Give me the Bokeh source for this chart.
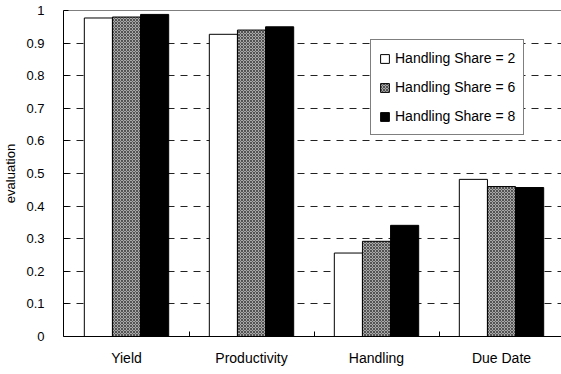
from bokeh.plotting import figure
from bokeh.models import (Range1d, FixedTicker, NumeralTickFormatter, CustomJSTickFormatter,
                          ColumnDataSource, Span, Legend, LegendItem)
from bokeh.transform import dodge
from bokeh.embed import file_html
from bokeh.resources import INLINE

categories = ["Yield", "Productivity", "Handling", "Due Date"]
share_2 = [0.977, 0.927, 0.256, 0.482]
share_6 = [0.980, 0.940, 0.292, 0.460]
share_8 = [0.988, 0.950, 0.341, 0.457]
series_labels = ["Handling Share = 2", "Handling Share = 6", "Handling Share = 8"]
y_ticks = [0, 0.1, 0.2, 0.3, 0.4, 0.5, 0.6, 0.7, 0.8, 0.9, 1.0]

src = ColumnDataSource(dict(idx=list(range(len(categories))), s2=share_2, s6=share_6, s8=share_8))

p = figure(width=561, height=374, output_backend="svg", toolbar_location=None,
           x_range=Range1d(-0.504, 3.48), y_range=Range1d(0, 1),
           min_border_left=59, min_border_right=0, min_border_top=10, min_border_bottom=38)
p.outline_line_color = None
p.background_fill_color = "white"
p.border_fill_color = "white"

bw = 0.225
common = dict(source=src, width=bw, bottom=0, line_color="black", line_width=1)
r2 = p.vbar(x=dodge("idx", -bw, range=p.x_range), top="s2", fill_color="white", **common)
r6 = p.vbar(x=dodge("idx", 0, range=p.x_range), top="s6", fill_color="#a8a8a8",
            hatch_pattern="diagonal_cross", hatch_color="#3c3c3c", hatch_scale=3, hatch_weight=0.8,
            **common)
r8 = p.vbar(x=dodge("idx", bw, range=p.x_range), top="s8", fill_color="black", **common)

# top frame edge
p.add_layout(Span(location=1, dimension="width", line_color="black", line_width=1))

tick_font = "Liberation Sans Narrow, Arial Narrow, Liberation Sans"

# y axis
p.yaxis.ticker = FixedTicker(ticks=y_ticks)
p.yaxis.formatter = NumeralTickFormatter(format="0.[0]")
p.yaxis.major_tick_in = 5
p.yaxis.major_tick_out = 0
p.yaxis.minor_tick_line_color = None
p.yaxis.major_label_standoff = 19
p.yaxis.major_label_text_font = tick_font
p.yaxis.major_label_text_font_size = "13px"
p.yaxis.major_label_text_color = "black"
p.yaxis.axis_label = "evaluation"
p.yaxis.axis_label_text_font = "Liberation Sans"
p.yaxis.axis_label_text_font_size = "13px"
p.yaxis.axis_label_text_font_style = "normal"
p.yaxis.axis_label_text_color = "black"
p.yaxis.axis_label_standoff = 5
p.yaxis.axis_line_color = "black"

# x axis: names at group centres, ticks at group boundaries
p.xaxis.ticker = FixedTicker(ticks=list(range(len(categories))), minor_ticks=[0.5, 1.5, 2.5])
p.xaxis.formatter = CustomJSTickFormatter(args=dict(labels=categories),
                                          code="return labels[Math.round(tick)];")
p.xaxis.major_tick_in = 0
p.xaxis.major_tick_out = 0
p.xaxis.minor_tick_in = 5
p.xaxis.minor_tick_out = 0
p.xaxis.major_label_standoff = 13
p.xaxis.major_label_text_font = "Liberation Sans"
p.xaxis.major_label_text_font_size = "14px"
p.xaxis.major_label_text_color = "black"
p.xaxis.axis_line_color = "black"

p.xgrid.grid_line_color = None
p.ygrid.ticker = FixedTicker(ticks=y_ticks[1:-1])
p.ygrid.grid_line_color = "#222222"
p.ygrid.grid_line_dash = "7 6"
p.ygrid.grid_line_width = 1

legend = Legend(items=[LegendItem(label=series_labels[0], renderers=[r2]),
                       LegendItem(label=series_labels[1], renderers=[r6]),
                       LegendItem(label=series_labels[2], renderers=[r8])],
                location=(307, 201), orientation="vertical")
legend.glyph_width = 11
legend.glyph_height = 11
legend.label_height = 20
legend.spacing = 9
legend.padding = 8
legend.margin = 0
legend.label_standoff = 5
legend.label_text_font = "Liberation Sans"
legend.label_text_font_size = "14px"
legend.label_text_color = "black"
legend.border_line_color = "black"
legend.border_line_width = 1
legend.background_fill_color = "white"
legend.background_fill_alpha = 1
p.add_layout(legend, "center")

open("out.html", "w").write(file_html(p, INLINE))
